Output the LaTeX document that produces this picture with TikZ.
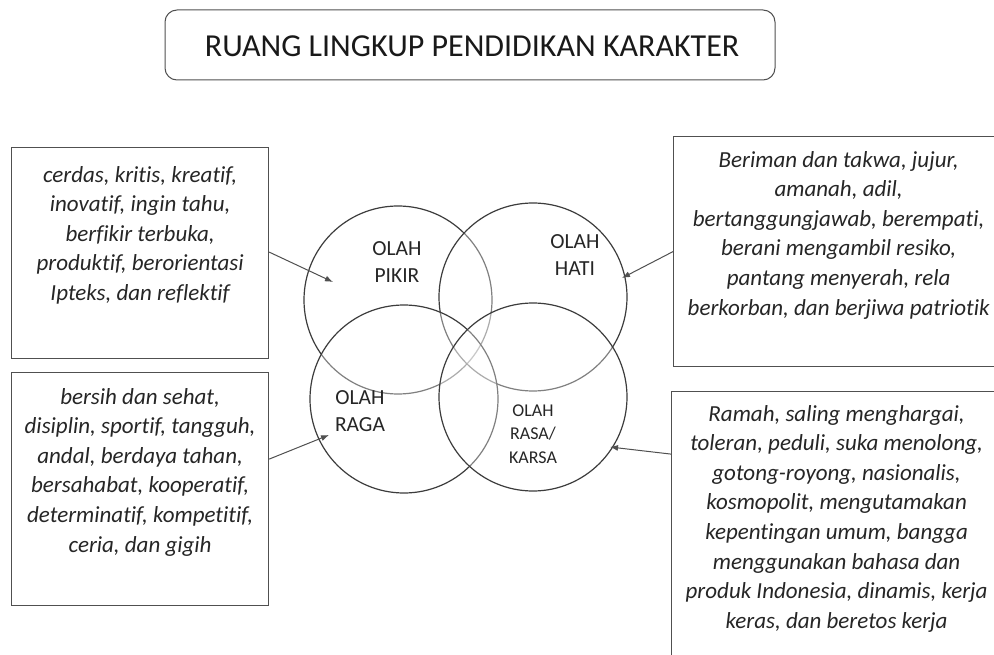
\documentclass[tikz,border=0pt]{standalone}
\usepackage{fontspec}
\setmainfont{Carlito}[Ligatures={NoCommon}]
\usetikzlibrary{arrows.meta,calc}
\definecolor{linegray}{HTML}{505050}
\definecolor{circgray}{HTML}{3C3C3C}
\tikzset{
  titlebox/.style={draw=linegray, line width=1pt, rounded corners=12pt, minimum width=610pt, minimum height=70pt, inner sep=0pt},
  infobox/.style={draw=linegray, line width=1.2pt, anchor=north west, inner sep=0pt},
  infotext/.style={anchor=north, align=center, inner sep=0pt, font=\itshape\fontsize{23}{29.6}\selectfont, text=black!85},
  venn/.style={circle, draw=circgray, line width=1.2pt, fill=white, fill opacity=0.35, text opacity=1, minimum size=188pt, inner sep=0pt},
  vlabel/.style={align=center, inner sep=0pt, font=\fontsize{21.5}{27}\selectfont, text=black!85},
  vlabelsmall/.style={align=center, inner sep=0pt, font=\fontsize{18}{23.5}\selectfont, text=black!85},
  pointer/.style={draw=linegray, line width=1pt, -{Latex[length=8pt,width=6pt]}}
}
\begin{document}
\begin{tikzpicture}[x=1pt,y=-1pt]
\useasboundingbox (0,0) rectangle (994,655);
\clip (0,0) rectangle (994,655);
\fill[white] (0,0) rectangle (994,655);
% title
\node[titlebox] (title) at (470,45) {};
\node[inner sep=0pt, font=\fontsize{32}{36}\selectfont, text=black!90] (titletext) at (472,46) {RUANG LINGKUP PENDIDIKAN KARAKTER};
% venn circles
\node[venn] (pikir) at (398,300) {};
\node[venn] (hati) at (533,297) {};
\node[venn] (raga) at (404,399) {};
\node[venn] (rasa) at (533,397) {};
\node[vlabel] (pikirlbl) at (397,262) {OLAH\\PIKIR};
\node[vlabel] (hatilbl) at (575,255) {OLAH\\HATI};
\node[vlabel] (ragalbl) at (360,411) {OLAH\\RAGA};
\node[vlabelsmall] (rasalbl) at (533,434) {OLAH\\RASA/\\KARSA};
% boxes
\node[infobox, minimum width=257pt, minimum height=211pt] (lt) at (11,147) {};
\node[infotext] (lttext) at ($(lt.north)+(0,19)$) {cerdas, kritis, kreatif,\\inovatif, ingin tahu,\\berfikir terbuka,\\produktif, berorientasi\\Ipteks, dan reflektif};
\node[infobox, minimum width=257pt, minimum height=233pt] (lb) at (11,372) {};
\node[infotext] (lbtext) at ($(lb.north)+(0,16)$) {bersih dan sehat,\\disiplin, sportif, tangguh,\\andal, berdaya tahan,\\bersahabat, kooperatif,\\determinatif, kompetitif,\\ceria, dan gigih};
\node[infobox, minimum width=330pt, minimum height=230pt] (rt) at (673,136) {};
\node[infotext] (rttext) at ($(rt.north)+(0,15)$) {Beriman dan takwa, jujur,\\amanah, adil,\\bertanggungjawab, berempati,\\berani mengambil resiko,\\pantang menyerah, rela\\berkorban, dan berjiwa patriotik};
\node[infobox, minimum width=330pt, minimum height=275pt] (rb) at (671,391) {};
\node[infotext] (rbtext) at ($(rb.north)+(0,14)$) {Ramah, saling menghargai,\\toleran, peduli, suka menolong,\\gotong-royong, nasionalis,\\kosmopolit, mengutamakan\\kepentingan umum, bangga\\menggunakan bahasa dan\\produk Indonesia, dinamis, kerja\\keras, dan beretos kerja};
% arrow targets
\coordinate (tippikir) at (333,282);
\coordinate (tipraga) at (329,435);
\coordinate (tiphati) at (622,278);
\coordinate (tiprasa) at (610,447);
\draw[pointer] ([yshift=1pt]lt.east) -- (tippikir);
\draw[pointer] ([yshift=30pt]lb.east) -- (tipraga);
\draw[pointer] (rt.west) -- (tiphati);
\draw[pointer] ([yshift=75pt]rb.west) -- (tiprasa);
\end{tikzpicture}
\end{document}
